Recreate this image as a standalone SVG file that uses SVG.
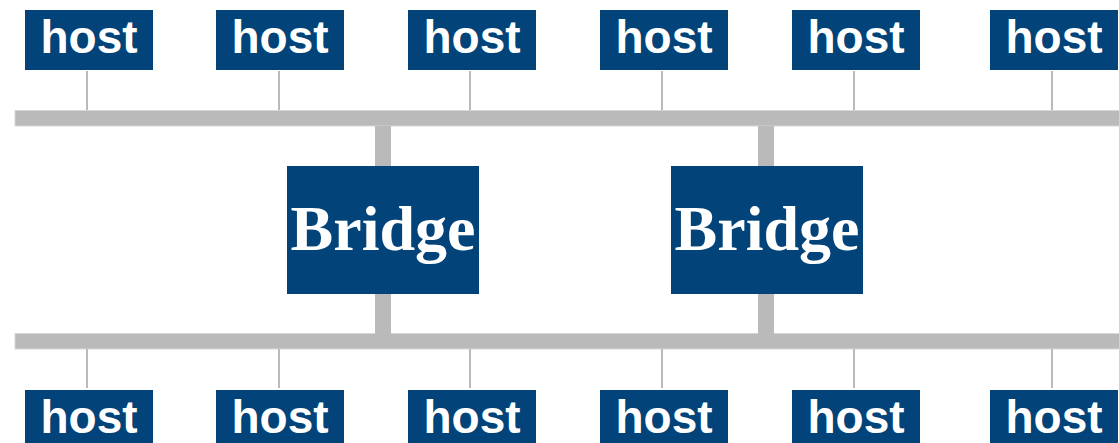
<svg xmlns="http://www.w3.org/2000/svg" width="1119" height="443" viewBox="0 0 1119 443">
  <style>
    .box { fill: #02437a; }
    .host-label { font-family: "Liberation Sans", Arial, sans-serif; font-weight: bold; font-size: 46px; fill: #ffffff; text-anchor: middle; }
    .bridge-label { font-family: "Liberation Serif", "Times New Roman", serif; font-weight: bold; font-size: 64px; fill: #ffffff; text-anchor: middle; }
    .bus { fill: #bababa; stroke: #d6d6d6; stroke-width: 1; }
    .drop { stroke: #bababa; stroke-width: 2; fill: none; }
    .stem { fill: #bababa; }
  </style>
  <rect width="1119" height="443" fill="#ffffff"/>

  <!-- LAN segments, host drops and bridge stems -->
  <g id="connectors">
    <rect class="bus" x="15" y="110.5" width="1110" height="15.5"/>
    <rect class="bus" x="15" y="333.5" width="1110" height="15.5"/>

    <line class="drop" x1="87" y1="71" x2="87" y2="110"/>
    <line class="drop" x1="279" y1="71" x2="279" y2="110"/>
    <line class="drop" x1="470" y1="71" x2="470" y2="110"/>
    <line class="drop" x1="662" y1="71" x2="662" y2="110"/>
    <line class="drop" x1="854" y1="71" x2="854" y2="110"/>
    <line class="drop" x1="1052" y1="71" x2="1052" y2="110"/>

    <line class="drop" x1="87" y1="349" x2="87" y2="388"/>
    <line class="drop" x1="279" y1="349" x2="279" y2="388"/>
    <line class="drop" x1="470" y1="349" x2="470" y2="388"/>
    <line class="drop" x1="662" y1="349" x2="662" y2="388"/>
    <line class="drop" x1="854" y1="349" x2="854" y2="388"/>
    <line class="drop" x1="1052" y1="349" x2="1052" y2="388"/>

    <rect class="stem" x="375" y="126" width="16" height="208"/>
    <rect class="stem" x="758" y="126" width="16" height="208"/>
  </g>

  <!-- hosts on the upper segment -->
  <g id="host-top-1"><rect class="box" x="25" y="10" width="128" height="60"/><text class="host-label" x="89" y="53">host</text></g>
  <g id="host-top-2"><rect class="box" x="216" y="10" width="128" height="60"/><text class="host-label" x="280" y="53">host</text></g>
  <g id="host-top-3"><rect class="box" x="408" y="10" width="128" height="60"/><text class="host-label" x="472" y="53">host</text></g>
  <g id="host-top-4"><rect class="box" x="600" y="10" width="128" height="60"/><text class="host-label" x="664" y="53">host</text></g>
  <g id="host-top-5"><rect class="box" x="792" y="10" width="128" height="60"/><text class="host-label" x="856" y="53">host</text></g>
  <g id="host-top-6"><rect class="box" x="990" y="10" width="128" height="60"/><text class="host-label" x="1054" y="53">host</text></g>

  <!-- bridges -->
  <g id="bridge-1"><rect class="box" x="287" y="166" width="192" height="128"/><text class="bridge-label" x="383" y="250">Bridge</text></g>
  <g id="bridge-2"><rect class="box" x="671" y="166" width="192" height="128"/><text class="bridge-label" x="767" y="250">Bridge</text></g>

  <!-- hosts on the lower segment -->
  <g id="host-bottom-1"><rect class="box" x="25" y="390" width="128" height="60"/><text class="host-label" x="89" y="433">host</text></g>
  <g id="host-bottom-2"><rect class="box" x="216" y="390" width="128" height="60"/><text class="host-label" x="280" y="433">host</text></g>
  <g id="host-bottom-3"><rect class="box" x="408" y="390" width="128" height="60"/><text class="host-label" x="472" y="433">host</text></g>
  <g id="host-bottom-4"><rect class="box" x="600" y="390" width="128" height="60"/><text class="host-label" x="664" y="433">host</text></g>
  <g id="host-bottom-5"><rect class="box" x="792" y="390" width="128" height="60"/><text class="host-label" x="856" y="433">host</text></g>
  <g id="host-bottom-6"><rect class="box" x="990" y="390" width="128" height="60"/><text class="host-label" x="1054" y="433">host</text></g>
</svg>
